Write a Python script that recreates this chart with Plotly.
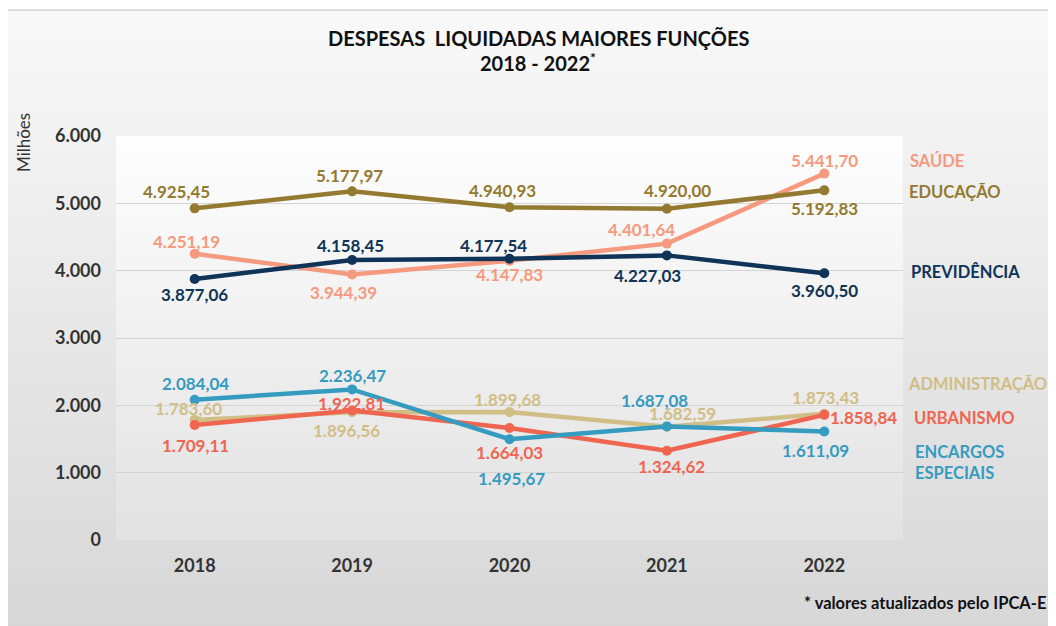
import plotly.graph_objects as go

# ---------------- data ----------------
years = ["2018", "2019", "2020", "2021", "2022"]
saude = [4251.19, 3944.39, 4147.83, 4401.64, 5441.70]
educacao = [4925.45, 5177.97, 4940.93, 4920.00, 5192.83]
previdencia = [3877.06, 4158.45, 4177.54, 4227.03, 3960.50]
administracao = [1783.60, 1896.56, 1899.68, 1682.59, 1873.43]
urbanismo = [1709.11, 1922.81, 1664.03, 1324.62, 1858.84]
encargos = [2084.04, 2236.47, 1495.67, 1687.08, 1611.09]
y_ticks = [0, 1000, 2000, 3000, 4000, 5000, 6000]

series = [
    ("SAÚDE", saude, "#F59A7E"),
    ("EDUCAÇÃO", educacao, "#937A30"),
    ("PREVIDÊNCIA", previdencia, "#0F3457"),
    ("ADMINISTRAÇÃO", administracao, "#D1BE86"),
    ("URBANISMO", urbanismo, "#EF6550"),
    ("ENCARGOS<br>ESPECIAIS", encargos, "#359BBF"),
]

# label offsets (pixels: dx right, dy down) -- styling only
label_offsets = {
    "SAÚDE": [(-8, -12), (-9, 18), (0, 14), (-25, -14), (0, -13)],
    "EDUCAÇÃO": [(-18, -17), (-3, -16), (-7, -17), (11, -18), (0, 18)],
    "PREVIDÊNCIA": [(0, 16), (-2, -15), (-16, -13), (-19, 20), (0, 17)],
    "ADMINISTRAÇÃO": [(-6, -11), (-6, 18), (-2, -13), (16, -13), (1, -16)],
    "URBANISMO": [(1, 21), (-1, -7), (0, 25), (5, 16), (39, 3)],
    "ENCARGOS<br>ESPECIAIS": [(1, -16), (0, -14), (2, 39), (-12, -26), (-9, 19)],
}
# series-name label position (screen pixel x left, pixel y center)
name_pos = {
    "SAÚDE": (908, 161),
    "EDUCAÇÃO": (907, 192),
    "PREVIDÊNCIA": (909, 272),
    "ADMINISTRAÇÃO": (906, 384),
    "URBANISMO": (912, 418),
    "ENCARGOS<br>ESPECIAIS": (913, 462),
}

OFF = 8  # page body margin
W, H = 1056 - OFF, 626 - OFF
# plot area in screen pixels
PL, PR, PT, PB = 116, 903, 136, 540
FONT = "Lato, 'Open Sans', sans-serif"


def px_x(px):
    return (px - PL) / (PR - PL)


def px_y(py):
    return (PB - py) / (PB - PT)


def fmt(v):
    s = f"{v:,.2f}"
    return s.replace(",", "X").replace(".", ",").replace("X", ".")


fig = go.Figure()

for name, vals, color in series:
    fig.add_trace(go.Scatter(
        x=years, y=vals, mode="lines+markers", name=name,
        line=dict(color=color, width=4.5),
        marker=dict(color=color, size=10),
        showlegend=False, cliponaxis=False,
    ))

annotations = []
for name, vals, color in series:
    for i, v in enumerate(vals):
        dx, dy = label_offsets[name][i]
        annotations.append(dict(
            x=i, y=v, xref="x", yref="y", text=f"<b>{fmt(v)}</b>",
            showarrow=False, xshift=dx, yshift=-dy,
            font=dict(family=FONT, size=17, color=color),
            xanchor="center", yanchor="middle",
        ))
    nx, ny = name_pos[name]
    annotations.append(dict(
        x=px_x(nx), y=px_y(ny), xref="paper", yref="paper",
        text=f"<b>{name}</b>", showarrow=False, xanchor="left", yanchor="middle",
        align="left", font=dict(family=FONT, size=16.5, color=color),
    ))

# title
annotations.append(dict(
    x=px_x(538), y=px_y(38), xref="paper", yref="paper",
    text="<b>DESPESAS\u00a0 LIQUIDADAS MAIORES FUNÇÕES</b>", showarrow=False,
    font=dict(family=FONT, size=20, color="#111111"), xanchor="center", yanchor="middle",
))
annotations.append(dict(
    x=px_x(538), y=px_y(62), xref="paper", yref="paper",
    text="<b>2018 - 2022<sup>*</sup></b>", showarrow=False,
    font=dict(family=FONT, size=20, color="#111111"), xanchor="center", yanchor="middle",
))
# y-axis unit
annotations.append(dict(
    x=px_x(23), y=px_y(143), xref="paper", yref="paper",
    text="Milhões", showarrow=False, textangle=-90,
    font=dict(family=FONT, size=17, color="#333333"), xanchor="center", yanchor="middle",
))
# footnote
annotations.append(dict(
    x=px_x(1048), y=px_y(603), xref="paper", yref="paper",
    text="<b>* valores atualizados pelo IPCA-E</b>", showarrow=False,
    font=dict(family=FONT, size=16.5, color="#111111"), xanchor="right", yanchor="middle",
))

# background gradients (styling shapes)
shapes = []


def lerp(c0, c1, t):
    return "rgb(%d,%d,%d)" % tuple(round(a + (b - a) * t) for a, b in zip(c0, c1))


def gradient(x0, x1, y0, y1, c0, c1, n):
    step = (y1 - y0) / n
    for k in range(n):
        ya = y0 + k * step
        yb = ya + step + 0.6
        shapes.append(dict(
            type="rect", xref="paper", yref="paper", layer="below",
            x0=px_x(x0), x1=px_x(x1), y0=px_y(min(yb, y1)), y1=px_y(ya),
            fillcolor=lerp(c0, c1, (k + 0.5) / n), line=dict(width=0),
        ))


gradient(7, 1060, 10, 630, (249, 249, 249), (215, 215, 215), 90)
gradient(PL, PR, PT, PB, (254, 254, 254), (226, 226, 226), 60)
shapes.append(dict(
    type="rect", xref="paper", yref="paper", layer="below",
    x0=px_x(7), x1=px_x(1062), y0=px_y(632), y1=px_y(10),
    fillcolor="rgba(0,0,0,0)", line=dict(color="#d2d2d2", width=1.5),
))

fig.update_layout(
    width=W, height=H,
    margin=dict(l=PL - OFF, r=1056 - PR, t=PT - OFF, b=626 - PB, pad=0),
    paper_bgcolor="white", plot_bgcolor="rgba(0,0,0,0)",
    separators=",.",
    font=dict(family=FONT),
    annotations=annotations, shapes=shapes,
    xaxis=dict(
        type="category", categoryorder="array", categoryarray=years,
        range=[-0.5, 4.5], showgrid=False, zeroline=False, showline=False,
        ticks="", ticklabelstandoff=13,
        tickfont=dict(family=FONT, size=18, color="#333333", weight="bold"),
    ),
    yaxis=dict(
        range=[0, 6000], tickvals=y_ticks, tickformat=",d",
        showgrid=True, gridcolor="#d4d4d4", gridwidth=1.2,
        zeroline=False, showline=False, ticks="", ticklabelstandoff=14,
        tickfont=dict(family=FONT, size=18, color="#333333", weight="bold"),
    ),
)

fig.write_html("out.html")
